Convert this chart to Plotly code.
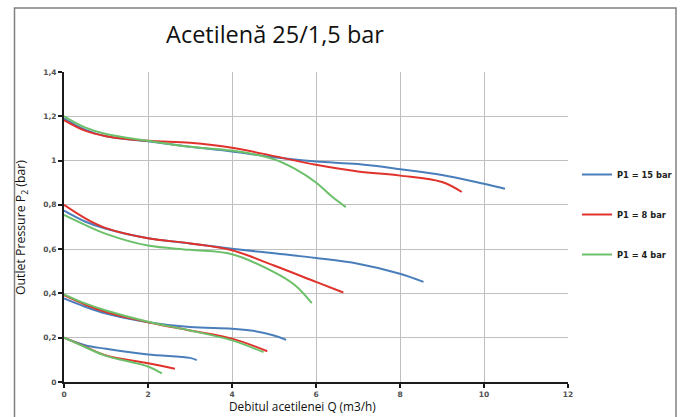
import plotly.graph_objects as go

# ---- data ----
title_text = "Acetilenă 25/1,5 bar"
x_title = "Debitul acetilenei Q (m3/h)"
y_title = "Outlet Pressure P<sub>2</sub> (bar)"

series_names = ["P1 = 15 bar", "P1 = 8 bar", "P1 = 4 bar"]
series_colors = ["#4A7EBB", "#E0322B", "#6CC06A"]

# set point 1.2 bar
q15_a = [0, 0.5, 1, 2, 3, 4, 5, 6, 7, 8, 9, 10, 10.5]
p15_a = [1.19, 1.14, 1.11, 1.087, 1.062, 1.041, 1.015, 0.996, 0.984, 0.961, 0.935, 0.895, 0.873]
q8_a = [0, 0.5, 1, 2, 3, 4, 5, 6, 7, 8, 9, 9.47]
p8_a = [1.183, 1.135, 1.11, 1.089, 1.08, 1.058, 1.02, 0.981, 0.951, 0.932, 0.903, 0.858]
q4_a = [0, 0.5, 1, 2, 3, 4, 5, 5.5, 6, 6.4, 6.71]
p4_a = [1.2, 1.15, 1.12, 1.089, 1.062, 1.045, 1.006, 0.962, 0.901, 0.834, 0.79]

# set point 0.8 bar
q15_b = [0, 0.5, 1, 2, 3, 4, 5, 6, 7, 8, 8.56]
p15_b = [0.774, 0.725, 0.692, 0.649, 0.626, 0.602, 0.581, 0.56, 0.534, 0.489, 0.452]
q8_b = [0, 0.5, 1, 2, 3, 4, 5, 6, 6.65]
p8_b = [0.80, 0.74, 0.695, 0.649, 0.626, 0.595, 0.526, 0.452, 0.404]
q4_b = [0, 0.5, 1, 2, 3, 4, 5, 5.5, 5.9]
p4_b = [0.755, 0.71, 0.669, 0.616, 0.597, 0.577, 0.496, 0.437, 0.356]

# set point 0.4 bar
q15_c = [0, 0.5, 1, 2, 3, 4, 4.5, 5, 5.29]
p15_c = [0.377, 0.34, 0.309, 0.27, 0.248, 0.241, 0.231, 0.21, 0.19]
q8_c = [0, 0.5, 1, 2, 3, 4, 4.84]
p8_c = [0.392, 0.35, 0.316, 0.27, 0.233, 0.196, 0.139]
q4_c = [0, 0.5, 1, 2, 3, 4, 4.75]
p4_c = [0.396, 0.355, 0.323, 0.272, 0.233, 0.188, 0.135]

# set point 0.2 bar
q15_d = [0, 0.5, 1, 2, 3, 3.16]
p15_d = [0.2, 0.166, 0.15, 0.124, 0.109, 0.099]
q8_d = [0, 0.5, 1, 2, 2.64]
p8_d = [0.2, 0.16, 0.12, 0.085, 0.06]
q4_d = [0, 0.5, 1, 2, 2.33]
p4_d = [0.2, 0.158, 0.118, 0.07, 0.039]

x_ticks = [0, 2, 4, 6, 8, 10, 12]
y_ticks = [0, 0.2, 0.4, 0.6, 0.8, 1.0, 1.2, 1.4]
y_tick_text = ["0", "0,2", "0,4", "0,6", "0,8", "1", "1,2", "1,4"]

groups = [
    [(q15_a, p15_a), (q8_a, p8_a), (q4_a, p4_a)],
    [(q15_b, p15_b), (q8_b, p8_b), (q4_b, p4_b)],
    [(q15_c, p15_c), (q8_c, p8_c), (q4_c, p4_c)],
    [(q15_d, p15_d), (q8_d, p8_d), (q4_d, p4_d)],
]

fig = go.Figure()
for gi, grp in enumerate(groups):
    for si, (q, p) in enumerate(grp):
        fig.add_trace(go.Scatter(
            x=q, y=p, mode="lines",
            name=series_names[si],
            legendgroup=series_names[si],
            showlegend=(gi == 0),
            line=dict(color=series_colors[si], width=2, shape="spline", smoothing=1.0),
        ))

tick_font = dict(family="DejaVu Sans", size=7.5, color="#505050", weight="bold")

W, H = 680, 417
L, R, T, B = 64, 112, 72, 35
PW, PH = W - L - R, H - T - B


def px_x(px):
    return (px - L) / PW


def px_y(py):
    return 1 - (py - T) / PH


fig.update_layout(
    width=W, height=H,
    margin=dict(l=L, r=R, t=T, b=B, autoexpand=False),
    paper_bgcolor="white", plot_bgcolor="white",
    title=dict(text=title_text, x=275 / W, xanchor="center",
               y=1 - 35 / H, yanchor="middle",
               font=dict(family="Open Sans", size=23.5, color="#111111")),
    legend=dict(x=px_x(577), y=px_y(160), xanchor="left", yanchor="top",
                font=dict(family="DejaVu Sans", size=8.3, color="#202020", weight="bold"),
                tracegroupgap=21, bgcolor="rgba(0,0,0,0)"),
    showlegend=True,
)

fig.update_xaxes(
    range=[0, 12], tickvals=x_ticks, ticktext=[str(v) for v in x_ticks],
    showgrid=True, gridcolor="#BFBFBF", gridwidth=1, zeroline=False,
    showline=True, linecolor="#1a1a1a", linewidth=2,
    ticks="outside", ticklen=4, tickwidth=2, tickcolor="#1a1a1a",
    tickfont=tick_font, automargin=False,
)
fig.update_yaxes(
    range=[0, 1.4], tickvals=y_ticks, ticktext=y_tick_text,
    showgrid=True, gridcolor="#BFBFBF", gridwidth=1, zeroline=False,
    showline=True, linecolor="#1a1a1a", linewidth=2,
    ticks="outside", ticklen=4, tickwidth=2, tickcolor="#1a1a1a",
    tickfont=tick_font, automargin=False,
)

fig.add_annotation(text=x_title, xref="paper", yref="paper",
                   x=px_x(302), y=px_y(406),
                   xanchor="center", yanchor="middle", showarrow=False,
                   font=dict(family="Open Sans", size=11.8, color="#111111"))
fig.add_annotation(text=y_title, xref="paper", yref="paper",
                   x=px_x(22), y=px_y(228), textangle=-90,
                   xanchor="center", yanchor="middle", showarrow=False,
                   font=dict(family="Open Sans", size=12.3, color="#111111"))

fig.add_shape(type="rect", xref="paper", yref="paper",
              x0=px_x(14.5), x1=px_x(676),
              y0=px_y(440), y1=px_y(8),
              line=dict(color="#808080", width=1.5), layer="below")

fig.write_html("out.html",
               config={"displayModeBar": False},
               post_script="document.body.style.margin='0';document.body.style.overflow='hidden';")
